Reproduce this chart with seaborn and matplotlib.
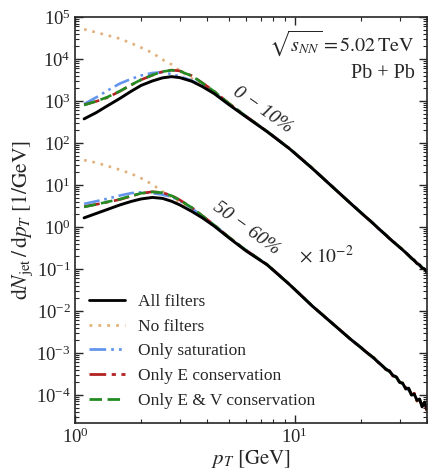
import numpy as np
import pandas as pd
import matplotlib
matplotlib.use("Agg")
import matplotlib.pyplot as plt
from matplotlib.ticker import LogLocator, NullFormatter
from matplotlib.lines import Line2D
import seaborn as sns

# ---------------- data ----------------
PT = [1.1, 1.25, 1.4, 1.6, 1.8, 2.0, 2.25, 2.5, 2.75, 3.0, 3.4, 3.8, 4.3, 5.0, 6.0, 7.5, 9.5, 12, 15, 18,
      20, 21, 22, 23, 24, 25, 26, 27, 28, 29, 30, 31, 32, 33, 34, 35, 36, 37, 38, 39, 40]

# 0-10 %
ALL_0 = [375, 530, 760, 1150, 1700, 2350, 3000, 3550, 3800, 3600, 2950, 2200, 1500, 830, 420, 185, 72, 25, 8.6, 3.6,
         2.2, 1.75, 1.42, 1.15, 0.93, 0.77, 0.64, 0.53, 0.45, 0.385, 0.33, 0.285, 0.245, 0.21, 0.18, 0.16, 0.135, 0.125, 0.105, 0.10, 0.083]
NOF_0 = [51000, 43000, 36800, 30500, 23800, 18700, 14000, 9700, 7400, 5200, 3450, 2450, 1600, 870, 430, 188, 73, 25.3, 8.7, 3.65,
         2.22, 1.77, 1.43, 1.16, 0.94, 0.78, 0.65, 0.53, 0.455, 0.39, 0.335, 0.29, 0.25, 0.215, 0.175, 0.165, 0.14, 0.12, 0.11, 0.095, 0.085]
SAT_0 = [850, 1220, 1750, 2600, 3350, 4050, 4650, 4850, 4350, 3850, 3050, 2300, 1560, 870, 432, 188, 73, 25.2, 8.7, 3.63,
         2.21, 1.76, 1.43, 1.15, 0.935, 0.775, 0.645, 0.535, 0.45, 0.39, 0.33, 0.29, 0.245, 0.215, 0.18, 0.16, 0.14, 0.12, 0.11, 0.10, 0.082]
ECO_0 = [810, 980, 1200, 1700, 2400, 3200, 4100, 5000, 5450, 5200, 4000, 2700, 1700, 890, 435, 188, 73, 25.3, 8.65, 3.62,
         2.21, 1.76, 1.42, 1.16, 0.93, 0.775, 0.64, 0.535, 0.45, 0.39, 0.33, 0.29, 0.245, 0.21, 0.185, 0.155, 0.14, 0.125, 0.105, 0.10, 0.08]
EVC_0 = [800, 990, 1230, 1720, 2420, 3220, 4150, 5000, 5400, 5150, 3950, 2680, 1690, 885, 433, 187, 72.5, 25.2, 8.65, 3.62,
         2.21, 1.75, 1.43, 1.15, 0.935, 0.77, 0.645, 0.53, 0.455, 0.385, 0.335, 0.285, 0.25, 0.21, 0.18, 0.16, 0.135, 0.125, 0.11, 0.097, 0.084]

# 50-60 % (already scaled by 1e-2)
ALL_5 = [1.65, 2.1, 2.6, 3.35, 4.05, 4.65, 5.05, 4.8, 4.1, 3.35, 2.35, 1.65, 1.05, 0.56, 0.27, 0.125, 0.042, 0.0132, 0.0048, 0.0021,
         0.00135, 0.00108, 0.0009, 0.00074, 0.0006, 0.0005, 0.00041, 0.00037, 0.00029, 0.00027, 0.0002, 0.00019, 0.00014, 0.000145, 0.0001, 0.000105, 0.000075, 0.00008, 0.000052, 0.000068, 0.000045]
NOF_5 = [39, 34, 28.5, 23, 18.6, 14.5, 10.3, 7.0, 5.1, 3.9, 2.6, 1.75, 1.08, 0.57, 0.275, 0.127, 0.0425, 0.0134, 0.0049, 0.00212,
         0.00138, 0.0011, 0.00085, 0.00078, 0.00058, 0.00052, 0.0004, 0.00039, 0.00027, 0.00029, 0.00019, 0.0002, 0.000135, 0.00016, 0.000095, 0.00011, 0.00007, 0.000085, 0.000055, 0.000066, 0.000042]
SAT_5 = [3.55, 4.1, 4.7, 5.6, 6.4, 6.7, 6.4, 5.9, 5.2, 4.2, 2.8, 1.8, 1.1, 0.58, 0.28, 0.127, 0.0425, 0.0133, 0.0048, 0.00211,
         0.00136, 0.00107, 0.00091, 0.00072, 0.00062, 0.00049, 0.00042, 0.00035, 0.0003, 0.00025, 0.00021, 0.00018, 0.000145, 0.00013, 0.000105, 0.0001, 0.000078, 0.000072, 0.00006, 0.000056, 0.000044]
ECO_5 = [3.05, 3.45, 3.9, 4.5, 5.4, 6.3, 6.9, 6.6, 5.6, 4.4, 2.9, 1.85, 1.12, 0.58, 0.28, 0.127, 0.0424, 0.0133, 0.00485, 0.0021,
         0.00134, 0.0011, 0.00088, 0.00076, 0.00059, 0.00051, 0.0004, 0.00038, 0.00028, 0.00028, 0.0002, 0.00019, 0.00015, 0.00014, 0.0001, 0.00011, 0.000072, 0.000082, 0.000055, 0.000065, 0.00004]
EVC_5 = [3.0, 3.45, 3.95, 4.6, 5.5, 6.35, 6.85, 6.55, 5.55, 4.35, 2.9, 1.84, 1.11, 0.58, 0.28, 0.126, 0.0423, 0.0133, 0.00484, 0.0021,
         0.00135, 0.00107, 0.00089, 0.00075, 0.0006, 0.0005, 0.00041, 0.00036, 0.00029, 0.00026, 0.000205, 0.000185, 0.000145, 0.00014, 0.0001, 0.000102, 0.000076, 0.000078, 0.000057, 0.00006, 0.000046]

LABELS = ["All filters", "No filters", "Only saturation", "Only E conservation", "Only E & V conservation"]
COLORS = ["black", "#e3b07c", "#6495ed", "#b22222", "#228b22"]
STYLES = ["-", (0, (1, 2.2)), (0, (6, 1.8, 1, 1.8, 1, 1.8)), (0, (6, 2, 1.5, 2)), (0, (4.5, 2))]
Y_DECADES = [-4, -3, -2, -1, 0, 1, 2, 3, 4, 5]
X_DECADES = [0, 1]

SERIES_0 = [ALL_0, NOF_0, SAT_0, ECO_0, EVC_0]
SERIES_5 = [ALL_5, NOF_5, SAT_5, ECO_5, EVC_5]

# ---------------- figure ----------------
sns.set_style("ticks")
plt.rcParams["font.family"] = ["Liberation Serif", "DejaVu Serif"]
plt.rcParams["mathtext.fontset"] = "stix"

fig = plt.figure(figsize=(4.28, 4.72), dpi=100)
ax = fig.add_axes([75 / 428, 1 - 423 / 472, 352 / 428, 406 / 472])

order = [1, 2, 3, 4, 0]  # black on top
for i in order:
    for k, ser in enumerate((SERIES_0, SERIES_5)):
        df = pd.DataFrame({"pT": PT, "val": ser[i]})
        sns.lineplot(data=df, x="pT", y="val", ax=ax, color=COLORS[i], linestyle=STYLES[i],
                     linewidth=2.1 if i == 0 else 1.9, estimator=None, sort=False, legend=False)

ax.set_xscale("log")
ax.set_yscale("log")
ax.set_xlim(1, 40)
ax.set_ylim(2.15e-5, 1e5)

ax.set_yticks([10.0 ** k for k in Y_DECADES])
ax.set_xticks([10.0 ** k for k in X_DECADES])
ax.yaxis.set_minor_locator(LogLocator(base=10, subs=np.arange(2, 10) * 0.1, numticks=300))
ax.xaxis.set_minor_locator(LogLocator(base=10, subs=np.arange(2, 10) * 0.1, numticks=300))
ax.yaxis.set_minor_formatter(NullFormatter())
ax.xaxis.set_minor_formatter(NullFormatter())
ax.tick_params(which="both", direction="in", top=True, right=True, labelsize=13.5)
ax.tick_params(which="major", length=6, width=1.0, pad=3)
ax.tick_params(which="minor", length=3, width=0.8)
for s in ax.spines.values():
    s.set_linewidth(1.2)

ax.set_xlabel(r"$p_T\ [\mathrm{GeV}]$", fontsize=15, labelpad=1)
ax.set_ylabel(r"$\mathrm{d}N_{\mathrm{jet}}\,/\,\mathrm{d}p_T\ [1/\mathrm{GeV}]$", fontsize=15.5, labelpad=1)

# legend
hl = [Line2D([], [], color=COLORS[i], linestyle=STYLES[i], linewidth=2.0) for i in range(5)]
ax.legend(hl, LABELS, loc="lower left", bbox_to_anchor=(0.0, 0.0), frameon=False,
          fontsize=12.5, handlelength=2.1, labelspacing=0.5, handletextpad=0.75, borderaxespad=0.4)

# annotations
ax.text(0.965, 0.935, r"$\sqrt{s_{NN}}=5.02\,\mathrm{TeV}$", transform=ax.transAxes,
        ha="right", va="center", fontsize=14.5)
ax.text(0.965, 0.862, "Pb + Pb", transform=ax.transAxes, ha="right", va="center", fontsize=14.5)
ax.text((263 - 75) / 352, (423 - 110) / 406, "0 \u2212 10%", transform=ax.transAxes, rotation=-35,
        ha="center", va="center", fontsize=14, fontstyle="italic")
ax.text((246 - 75) / 352, (423 - 228) / 406, "50 \u2212 60%", transform=ax.transAxes, rotation=-36,
        ha="center", va="center", fontsize=14, fontstyle="italic")
ax.text((326 - 75) / 352, (423 - 256) / 406, r"$\times\ 10^{-2}$", transform=ax.transAxes,
        ha="center", va="center", fontsize=14)

fig.savefig("out.png", dpi=100)
